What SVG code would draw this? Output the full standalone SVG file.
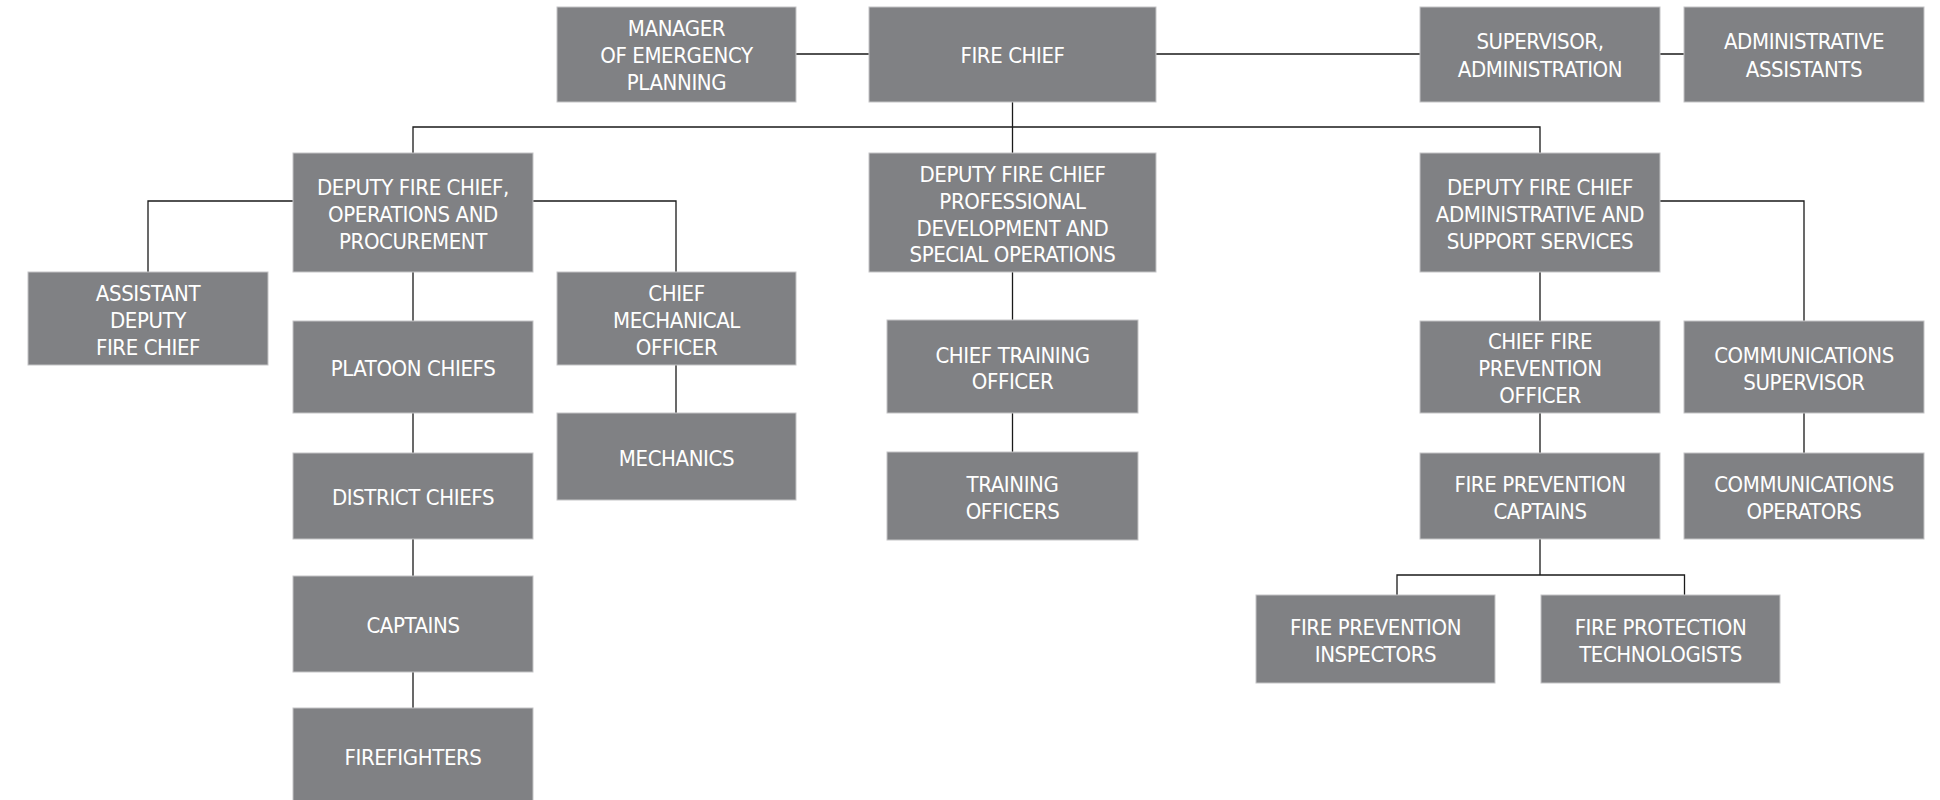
<svg xmlns="http://www.w3.org/2000/svg" width="1940" height="800" viewBox="0 0 1940 800">
<style>
.box{fill:#808184;stroke:#c4c4c6;stroke-width:1}
.t{font-family:"Liberation Sans Narrow","DejaVu Sans Condensed","Liberation Sans",sans-serif;font-stretch:condensed;font-size:22px;letter-spacing:-0.4px;fill:#ffffff;text-anchor:middle}
.c{stroke:#1a1a1a;stroke-width:1.3;fill:none}
</style>
<rect width="1940" height="800" fill="#ffffff"/>
<g id="connectors">
<path class="c" d="M796,54H869M1156,54H1420M1660,54H1684"/>
<path class="c" d="M1012.5,102V153M413,153V127H1540V153"/>
<path class="c" d="M293,201H148V272M533,201H676V272M676,365V413"/>
<path class="c" d="M413,272V321M413,413V453M413,539V576M413,672V708"/>
<path class="c" d="M1012.5,272V320M1012.5,413V452"/>
<path class="c" d="M1540,272V321M1540,413V453M1540,539V575M1397,595V575H1684.5V595"/>
<path class="c" d="M1660,201H1804V321M1804,413V453"/>
</g>
<g id="manager"><rect class="box" x="557" y="7" width="239" height="95"/><text class="t" x="676.5" y="35.5">MANAGER</text><text class="t" x="676.5" y="62.5">OF EMERGENCY</text><text class="t" x="676.5" y="89.5">PLANNING</text></g>
<g id="fire-chief"><rect class="box" x="869" y="7" width="287" height="95"/><text class="t" x="1012.5" y="63">FIRE CHIEF</text></g>
<g id="supervisor"><rect class="box" x="1420" y="7" width="240" height="95"/><text class="t" x="1540" y="49">SUPERVISOR,</text><text class="t" x="1540" y="76.5">ADMINISTRATION</text></g>
<g id="admin-assistants"><rect class="box" x="1684" y="7" width="240" height="95"/><text class="t" x="1804" y="49">ADMINISTRATIVE</text><text class="t" x="1804" y="76.5">ASSISTANTS</text></g>
<g id="deputy-ops"><rect class="box" x="293" y="153" width="240" height="119"/><text class="t" x="413" y="194.5">DEPUTY FIRE CHIEF,</text><text class="t" x="413" y="221.5">OPERATIONS AND</text><text class="t" x="413" y="248.5">PROCUREMENT</text></g>
<g id="deputy-prof"><rect class="box" x="869" y="153" width="287" height="119"/><text class="t" x="1012.5" y="181.5">DEPUTY FIRE CHIEF</text><text class="t" x="1012.5" y="208.5">PROFESSIONAL</text><text class="t" x="1012.5" y="235.5">DEVELOPMENT AND</text><text class="t" x="1012.5" y="262">SPECIAL OPERATIONS</text></g>
<g id="deputy-admin"><rect class="box" x="1420" y="153" width="240" height="119"/><text class="t" x="1540" y="194.5">DEPUTY FIRE CHIEF</text><text class="t" x="1540" y="221.5">ADMINISTRATIVE AND</text><text class="t" x="1540" y="248.5">SUPPORT SERVICES</text></g>
<g id="assistant-deputy"><rect class="box" x="28" y="272" width="240" height="93"/><text class="t" x="148" y="300.5">ASSISTANT</text><text class="t" x="148" y="327.5">DEPUTY</text><text class="t" x="148" y="354.5">FIRE CHIEF</text></g>
<g id="chief-mechanical"><rect class="box" x="557" y="272" width="239" height="93"/><text class="t" x="676.5" y="300.5">CHIEF</text><text class="t" x="676.5" y="327.5">MECHANICAL</text><text class="t" x="676.5" y="354.5">OFFICER</text></g>
<g id="platoon-chiefs"><rect class="box" x="293" y="321" width="240" height="92"/><text class="t" x="413" y="376">PLATOON CHIEFS</text></g>
<g id="mechanics"><rect class="box" x="557" y="413" width="239" height="87"/><text class="t" x="676.5" y="465.5">MECHANICS</text></g>
<g id="district-chiefs"><rect class="box" x="293" y="453" width="240" height="86"/><text class="t" x="413" y="505">DISTRICT CHIEFS</text></g>
<g id="captains"><rect class="box" x="293" y="576" width="240" height="96"/><text class="t" x="413" y="633">CAPTAINS</text></g>
<g id="firefighters"><rect class="box" x="293" y="708" width="240" height="96"/><text class="t" x="413" y="765">FIREFIGHTERS</text></g>
<g id="chief-training"><rect class="box" x="887" y="320" width="251" height="93"/><text class="t" x="1012.5" y="362.5">CHIEF TRAINING</text><text class="t" x="1012.5" y="389">OFFICER</text></g>
<g id="training-officers"><rect class="box" x="887" y="452" width="251" height="88"/><text class="t" x="1012.5" y="492">TRAINING</text><text class="t" x="1012.5" y="518.5">OFFICERS</text></g>
<g id="chief-fire-prevention"><rect class="box" x="1420" y="321" width="240" height="92"/><text class="t" x="1540" y="349">CHIEF FIRE</text><text class="t" x="1540" y="376">PREVENTION</text><text class="t" x="1540" y="403">OFFICER</text></g>
<g id="comm-supervisor"><rect class="box" x="1684" y="321" width="240" height="92"/><text class="t" x="1804" y="362.5">COMMUNICATIONS</text><text class="t" x="1804" y="389.5">SUPERVISOR</text></g>
<g id="fp-captains"><rect class="box" x="1420" y="453" width="240" height="86"/><text class="t" x="1540" y="492">FIRE PREVENTION</text><text class="t" x="1540" y="518.5">CAPTAINS</text></g>
<g id="comm-operators"><rect class="box" x="1684" y="453" width="240" height="86"/><text class="t" x="1804" y="492">COMMUNICATIONS</text><text class="t" x="1804" y="518.5">OPERATORS</text></g>
<g id="fp-inspectors"><rect class="box" x="1256" y="595" width="239" height="88"/><text class="t" x="1375.5" y="635">FIRE PREVENTION</text><text class="t" x="1375.5" y="661.5">INSPECTORS</text></g>
<g id="fp-technologists"><rect class="box" x="1541" y="595" width="239" height="88"/><text class="t" x="1660.5" y="635">FIRE PROTECTION</text><text class="t" x="1660.5" y="661.5">TECHNOLOGISTS</text></g>
</svg>
